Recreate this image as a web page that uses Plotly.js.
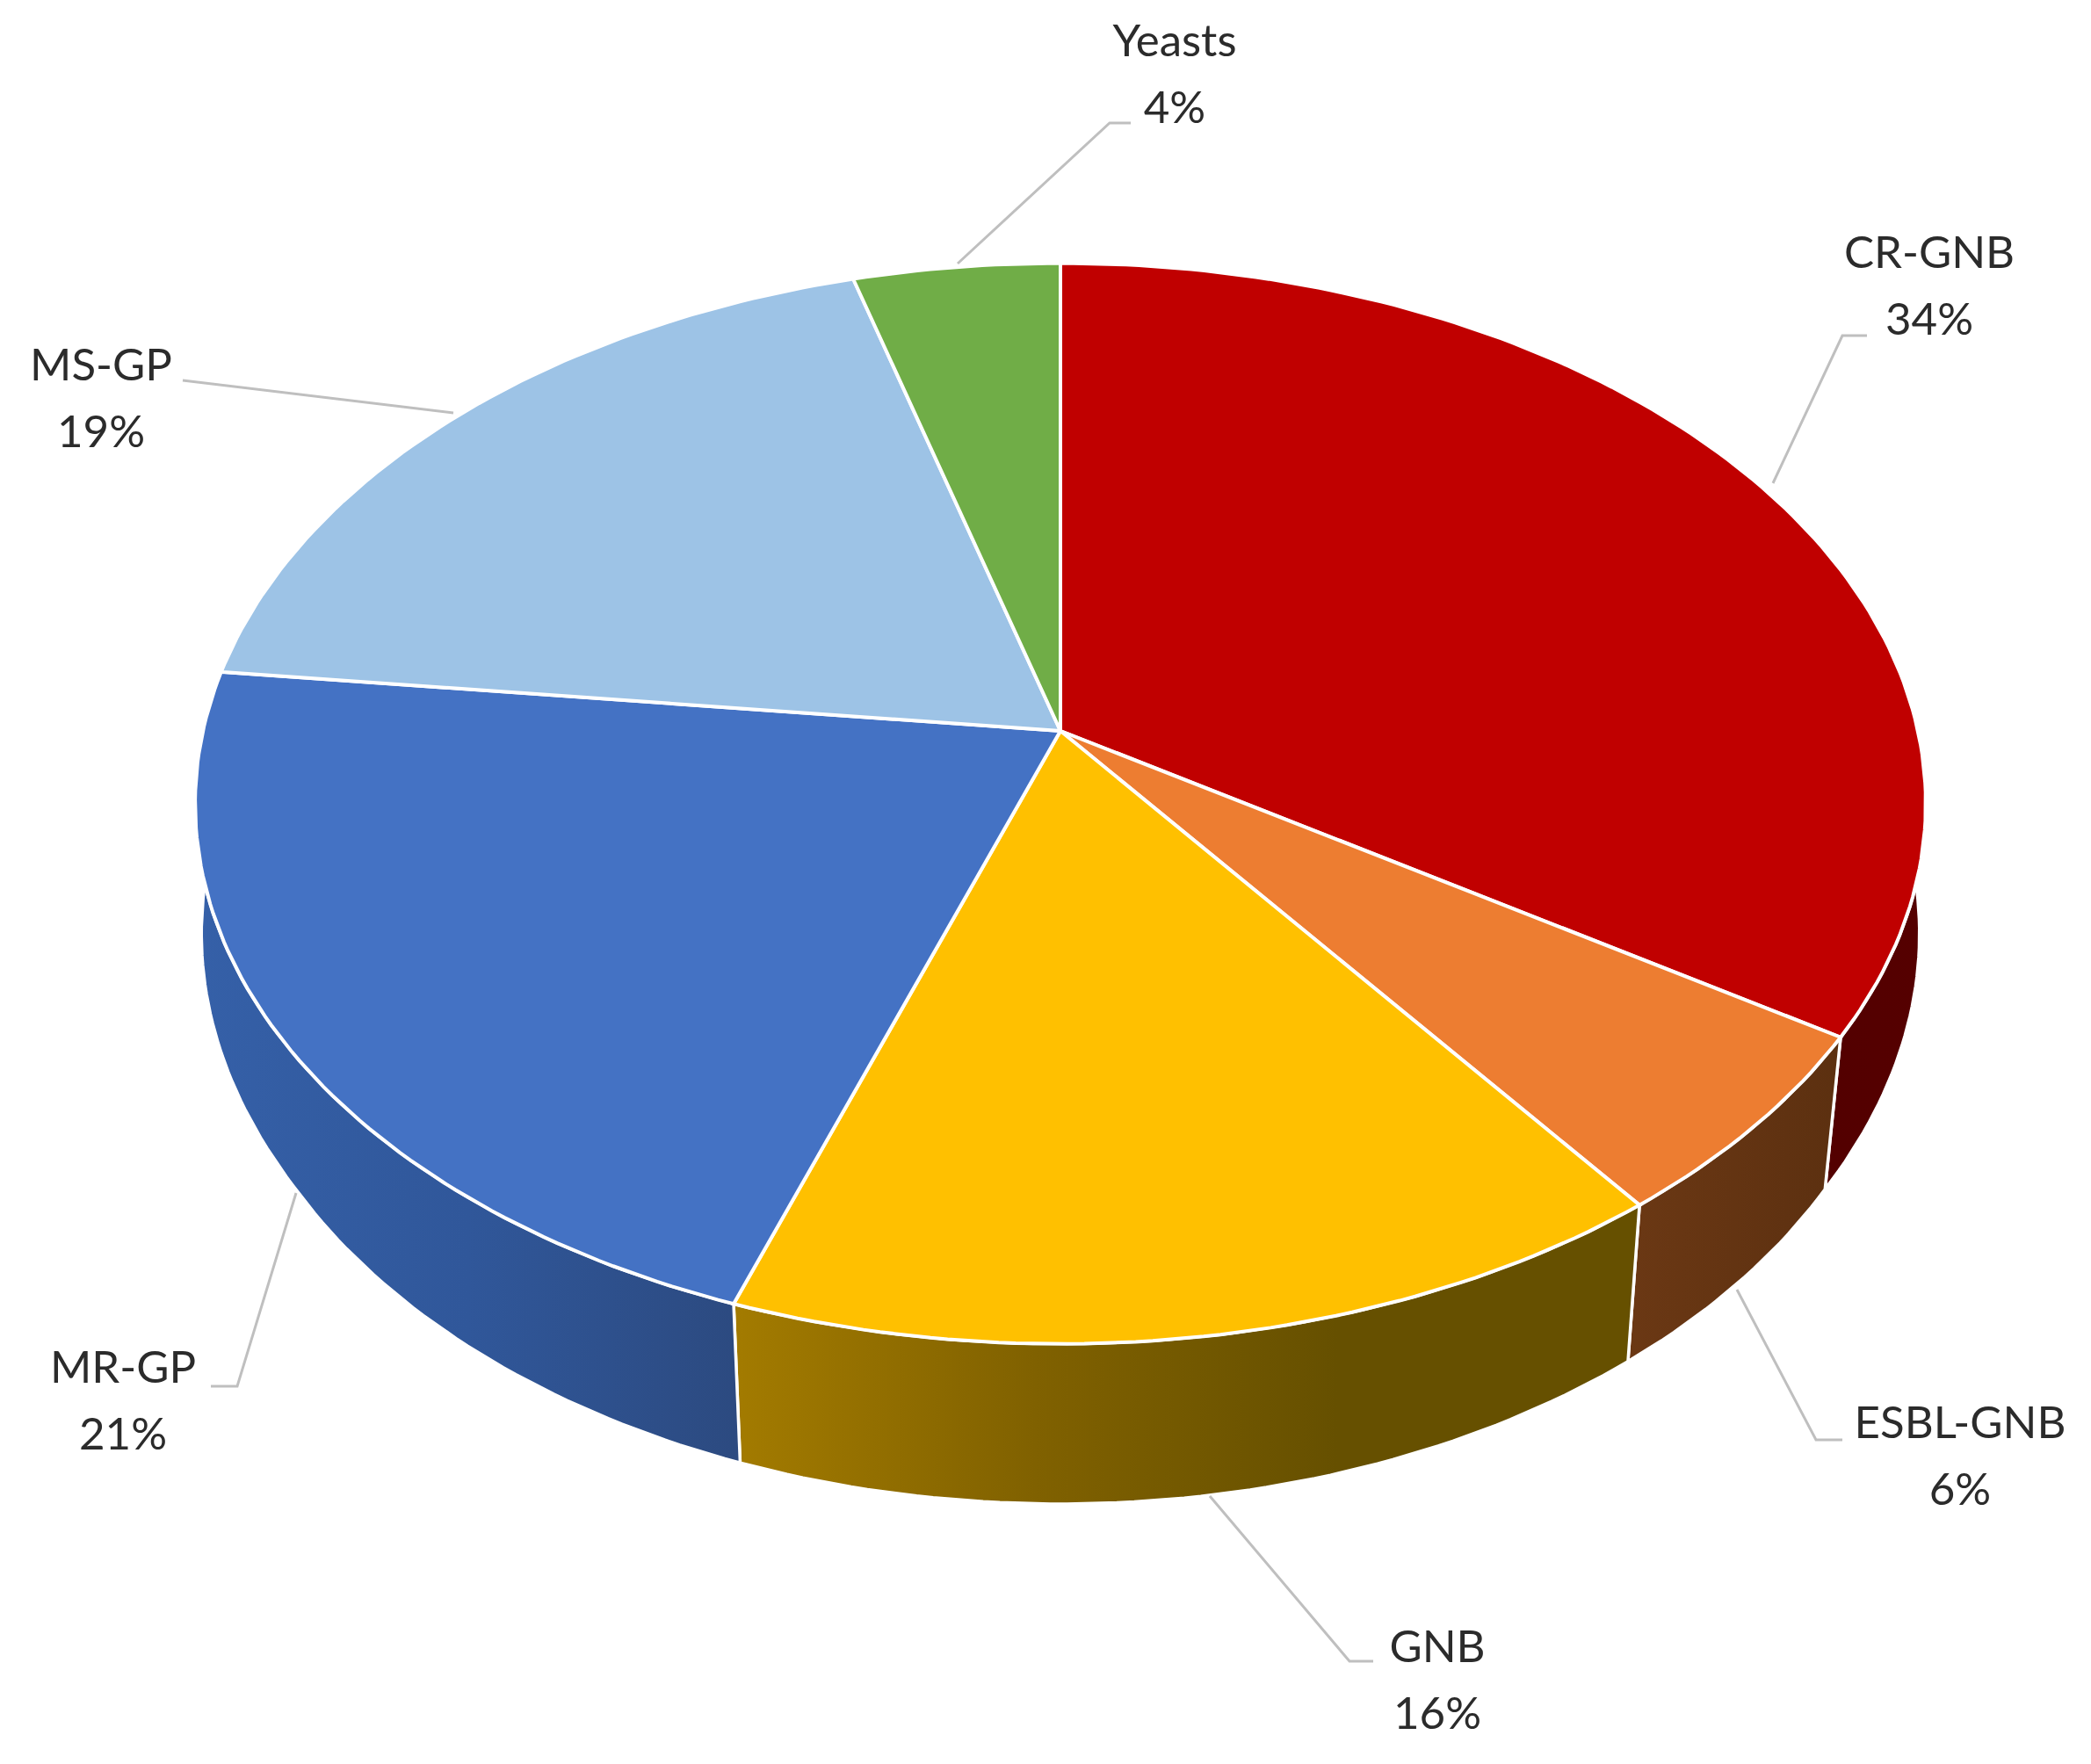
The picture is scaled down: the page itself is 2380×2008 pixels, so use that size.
<!DOCTYPE html>
<html><head><meta charset="utf-8">
<script src="https://cdn.plot.ly/plotly-3.0.1.min.js"></script>
<style>html,body{margin:0;padding:0;background:#fff}</style></head>
<body><div id="chart" style="width:2380px;height:2008px"></div>
<script>
// Data, clockwise from 12 o'clock
const categories = ['CR-GNB','ESBL-GNB','GNB','MR-GP','MS-GP','Yeasts'];
const shares     = [34.0, 5.7, 15.7, 21.4, 18.8, 4.4];

// Styles
const topColors  = ['#C00000','#ED7D31','#FFC000','#4472C4','#9DC3E6','#70AD47'];
const wallScales = [
  ['#440000','#550000'],
  ['#6b3814','#5c3010'],
  ['#a37b00','#806100','#665000','#665000'],
  ['#3560a8','#30579a','#2c4a80'],
  ['#5d7f9f','#5d7f9f'],
  ['#436829','#436829']
];

// Perspective projection of the pie disc
const X0 = 1207, Y0 = 832, A = 976, B = 604, P = 0.1344;
const project = deg => {
  const t = deg * Math.PI / 180, u = Math.sin(t), v = -Math.cos(t), d = 1 - P * v;
  return [X0 + A * u / d, Y0 + B * v / d];
};
const lower = ([x, y]) => {
  const k = Math.max(0.98, 0.993 - 0.013 * (y - 900) / 281);
  return [X0 + k * (x - X0), 1.026 * y + 142.4];
};
const arc = (a0, a1) => {
  const pts = [], n = Math.max(2, Math.ceil(Math.abs(a1 - a0)));
  for (let i = 0; i <= n; i++) pts.push(project(a0 + (a1 - a0) * i / n));
  return pts;
};

const total = shares.reduce((s, v) => s + v, 0);
let cum = 0;
const slices = shares.map(v => {
  const a0 = cum / total * 360; cum += v;
  return [a0, cum / total * 360];
});

const traces = [];
// Side walls
slices.forEach(([a0, a1], i) => {
  const top = arc(a0, a1), bot = top.map(lower).reverse(), poly = top.concat(bot, [top[0]]);
  const cs = wallScales[i];
  traces.push({
    type: 'scatter', mode: 'lines', x: poly.map(p => p[0]), y: poly.map(p => p[1]),
    fill: 'toself',
    fillgradient: {type: 'horizontal', colorscale: cs.map((c, k) => [k / (cs.length - 1), c])},
    line: {color: '#fff', width: 3.5}, hoverinfo: 'skip'
  });
});
// Top faces
slices.forEach(([a0, a1], i) => {
  const poly = [[X0, Y0]].concat(arc(a0, a1), [[X0, Y0]]);
  traces.push({
    type: 'scatter', mode: 'lines', x: poly.map(p => p[0]), y: poly.map(p => p[1]),
    fill: 'toself', fillcolor: topColors[i],
    line: {color: '#fff', width: 4}, hoverinfo: 'skip'
  });
});

// Leader lines and label placement (page pixels)
const leaders = [
  [[2018,550],[2097,382],[2125,382]],
  [[1977,1468],[2067,1639],[2097,1639]],
  [[1377,1703],[1536,1891],[1563,1891]],
  [[337,1358],[270,1578],[240,1578]],
  [[516,470],[208,433]],
  [[1090,300],[1263,140],[1287,140]]
];
const labelX = [2196, 2231, 1636, 140, 115, 1337];
const labelY = [292, 1624, 1879, 1561, 420, 51];
const lineGap = 76;

leaders.forEach(l => traces.push({
  type: 'scatter', mode: 'lines', x: l.map(p => p[0]), y: l.map(p => p[1]),
  line: {color: '#BFBFBF', width: 3}, hoverinfo: 'skip'
}));
traces.push({
  type: 'scatter', mode: 'text',
  x: labelX.concat(labelX),
  y: labelY.concat(labelY.map(y => y + lineGap)),
  text: categories.concat(shares.map(v => Math.round(v) + '%')),
  textposition: 'middle center',
  textfont: {family: 'Lato, "Open Sans", sans-serif', size: 51, color: '#2b2b2b'},
  hoverinfo: 'skip', cliponaxis: false
});

Plotly.newPlot('chart', traces, {
  width: 2380, height: 2008, showlegend: false,
  margin: {l: 0, r: 0, t: 0, b: 0},
  paper_bgcolor: '#fff', plot_bgcolor: '#fff',
  xaxis: {range: [0, 2380], visible: false, fixedrange: true},
  yaxis: {range: [2008, 0], visible: false, fixedrange: true}
}, {displayModeBar: false, staticPlot: true});
</script></body></html>
